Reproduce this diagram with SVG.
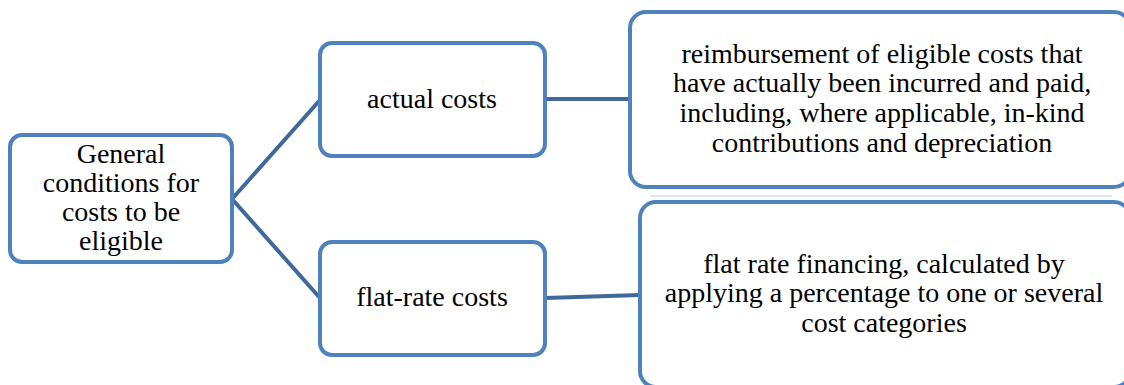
<svg xmlns="http://www.w3.org/2000/svg" width="1124" height="385" viewBox="0 0 1124 385">
<rect width="1124" height="385" fill="#FFFFFF"/>
<g id="connectors" fill="none" stroke="#41689A" stroke-width="4">
<path d="M232,199 L320,100"/>
<path d="M232,199 L320,298"/>
<path d="M545,99 L630,99"/>
<path d="M545,298 L640,295"/>
</g>
<line x1="650" y1="196" x2="1112" y2="196" stroke="#DCE6F2" stroke-width="2"/>
<g id="general">
<rect x="10" y="135" width="222" height="127" rx="12" fill="#FFFFFF" stroke="#4F81BD" stroke-width="4"/>
<text x="121" y="163" style="font-family:'Liberation Serif',serif;font-size:28px" text-anchor="middle">General</text>
<text x="121" y="192" style="font-family:'Liberation Serif',serif;font-size:28px" text-anchor="middle">conditions for</text>
<text x="121" y="221" style="font-family:'Liberation Serif',serif;font-size:28px" text-anchor="middle">costs to be</text>
<text x="121" y="250" style="font-family:'Liberation Serif',serif;font-size:28px" text-anchor="middle">eligible</text>
</g>
<g id="actual">
<rect x="320" y="43" width="225" height="113" rx="12" fill="#FFFFFF" stroke="#4F81BD" stroke-width="4"/>
<text x="432" y="108" style="font-family:'Liberation Serif',serif;font-size:28px" text-anchor="middle">actual costs</text>
</g>
<g id="flatrate">
<rect x="320" y="242" width="225" height="113" rx="12" fill="#FFFFFF" stroke="#4F81BD" stroke-width="4"/>
<text x="432" y="306" style="font-family:'Liberation Serif',serif;font-size:28px" text-anchor="middle">flat-rate costs</text>
</g>
<g id="actual-desc">
<rect x="630" y="12" width="500" height="175" rx="16" fill="#FFFFFF" stroke="#4F81BD" stroke-width="4"/>
<text x="882" y="63" style="font-family:'Liberation Serif',serif;font-size:28px" text-anchor="middle">reimbursement of eligible costs that</text>
<text x="882" y="92" style="font-family:'Liberation Serif',serif;font-size:28px" text-anchor="middle">have actually been incurred and paid,</text>
<text x="882" y="122" style="font-family:'Liberation Serif',serif;font-size:28px" text-anchor="middle">including, where applicable, in-kind</text>
<text x="882" y="152" style="font-family:'Liberation Serif',serif;font-size:28px" text-anchor="middle">contributions and depreciation</text>
</g>
<g id="flatrate-desc">
<rect x="640" y="202" width="490" height="185" rx="16" fill="#FFFFFF" stroke="#4F81BD" stroke-width="4"/>
<text x="884" y="273" style="font-family:'Liberation Serif',serif;font-size:28px" text-anchor="middle">flat rate financing, calculated by</text>
<text x="884" y="302" style="font-family:'Liberation Serif',serif;font-size:28px" text-anchor="middle">applying a percentage to one or several</text>
<text x="884" y="332" style="font-family:'Liberation Serif',serif;font-size:28px" text-anchor="middle">cost categories</text>
</g>
</svg>
